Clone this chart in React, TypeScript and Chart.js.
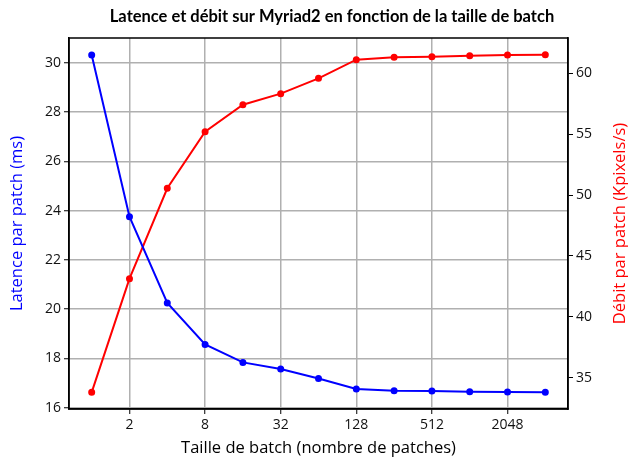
import React, { useEffect, useRef } from "react";
import { Chart, registerables } from "chart.js";

Chart.register(...registerables);

const batchSizes = [1, 2, 4, 8, 16, 32, 64, 128, 256, 512, 1024, 2048, 4096];
const latencyMs = [30.31, 23.75, 20.25, 18.57, 17.84, 17.57, 17.19, 16.76, 16.69, 16.68, 16.65, 16.64, 16.63];
const throughputK = [33.8, 43.13, 50.56, 55.21, 57.42, 58.33, 59.59, 61.12, 61.31, 61.36, 61.45, 61.5, 61.53];
const xTickBatches = [2, 8, 32, 128, 512, 2048];
const leftTicks = [16, 18, 20, 22, 24, 26, 28, 30];
const rightTicks = [35, 40, 45, 50, 55, 60];

const TITLE = "Latence et débit sur Myriad2 en fonction de la taille de batch";
const RIGHT_TITLE = "Débit par patch (Kpixels/s)";
const FONT = "'Open Sans', 'DejaVu Sans', sans-serif";

const framePlugin = {
  id: "frame",
  afterDatasetsDraw(chart: any) {
    const { ctx, chartArea } = chart;
    ctx.save();
    ctx.strokeStyle = "#000";
    ctx.lineWidth = 1.5;
    ctx.strokeRect(chartArea.left, chartArea.top, chartArea.right - chartArea.left, chartArea.bottom - chartArea.top);
    ctx.restore();
  },
  afterDraw(chart: any) {
    const { ctx, chartArea } = chart;
    ctx.save();
    ctx.fillStyle = "#000";
    ctx.font = "bold 16.5px Lato, 'Noto Sans', sans-serif";
    ctx.textAlign = "center";
    ctx.textBaseline = "middle";
    ctx.fillText(TITLE, 332, 17);
    ctx.translate(620, (chartArea.top + chartArea.bottom) / 2);
    ctx.rotate(-Math.PI / 2);
    ctx.fillStyle = "#ff0000";
    ctx.font = "16.5px " + FONT;
    ctx.fillText(RIGHT_TITLE, 0, 0);
    ctx.restore();
  },
};

export default function App() {
  const ref = useRef<HTMLCanvasElement>(null);
  useEffect(() => {
    document.body.style.margin = "0";
    const toPts = (vals: number[]) => batchSizes.map((b, i) => ({ x: Math.log2(b), y: vals[i] }));
    const chart = new Chart(ref.current!, {
      type: "line",
      data: {
        datasets: [
          {
            label: "Latence",
            data: toPts(latencyMs),
            borderColor: "#0000ff",
            backgroundColor: "#0000ff",
            borderWidth: 2,
            pointRadius: 2.5,
            pointHoverRadius: 2.5,
            yAxisID: "y",
          },
          {
            label: "Débit",
            data: toPts(throughputK),
            borderColor: "#ff0000",
            backgroundColor: "#ff0000",
            borderWidth: 2,
            pointRadius: 2.5,
            pointHoverRadius: 2.5,
            yAxisID: "y2",
          },
        ],
      },
      options: {
        animation: false,
        responsive: false,
        layout: { padding: { top: 38, left: 0, right: 0, bottom: 0 } },
        plugins: {
          legend: { display: false },
          tooltip: { enabled: false },
          title: { display: false },
        },
        scales: {
          x: {
            type: "linear",
            min: -0.6,
            max: 12.6,
            afterBuildTicks: (s: any) => {
              s.ticks = xTickBatches.map((b) => ({ value: Math.log2(b) }));
            },
            afterFit: (s: any) => {
              s.height = 50;
            },
            ticks: {
              color: "#111",
              font: { family: FONT, size: 14 },
              padding: 3,
              maxRotation: 0,
              callback: (v: any) => String(Math.round(Math.pow(2, Number(v)))),
            },
            grid: { color: "#b0b0b0", lineWidth: 1.5, tickColor: "#000", tickLength: 5, tickWidth: 1 },
            border: { color: "#000", width: 1.5 },
            title: {
              display: true,
              text: "Taille de batch (nombre de patches)",
              color: "#000",
              font: { family: FONT, size: 16.5 },
              padding: { top: 0, bottom: 1 },
            },
          },
          y: {
            type: "linear",
            position: "left",
            min: 15.95,
            max: 31.0,
            afterBuildTicks: (s: any) => {
              s.ticks = leftTicks.map((v) => ({ value: v }));
            },
            afterFit: (s: any) => {
              s.width = 69;
            },
            ticks: { color: "#111", font: { family: FONT, size: 14 }, padding: 3 },
            grid: { color: "#b0b0b0", lineWidth: 1.5, tickColor: "#000", tickLength: 5, tickWidth: 1 },
            border: { color: "#000", width: 1.5 },
            title: {
              display: true,
              text: "Latence par patch (ms)",
              color: "#0000ff",
              font: { family: FONT, size: 16.5 },
              padding: { top: 7, bottom: 0 },
            },
          },
          y2: {
            type: "linear",
            position: "right",
            min: 32.43,
            max: 62.9,
            afterBuildTicks: (s: any) => {
              s.ticks = rightTicks.map((v) => ({ value: v }));
            },
            afterFit: (s: any) => {
              s.width = 60;
            },
            ticks: { color: "#111", font: { family: FONT, size: 14 }, padding: 3 },
            grid: { drawOnChartArea: false, color: "#000", tickColor: "#000", tickLength: 5, tickWidth: 1 },
            border: { color: "#000", width: 1.5 },
            title: { display: false },
          },
        },
      },
      plugins: [framePlugin],
    });
    return () => chart.destroy();
  }, []);
  return (
    <div style={{ position: "absolute", left: 0, top: 0, width: 628, height: 459 }}>
      <canvas ref={ref} width={628} height={459} />
    </div>
  );
}
